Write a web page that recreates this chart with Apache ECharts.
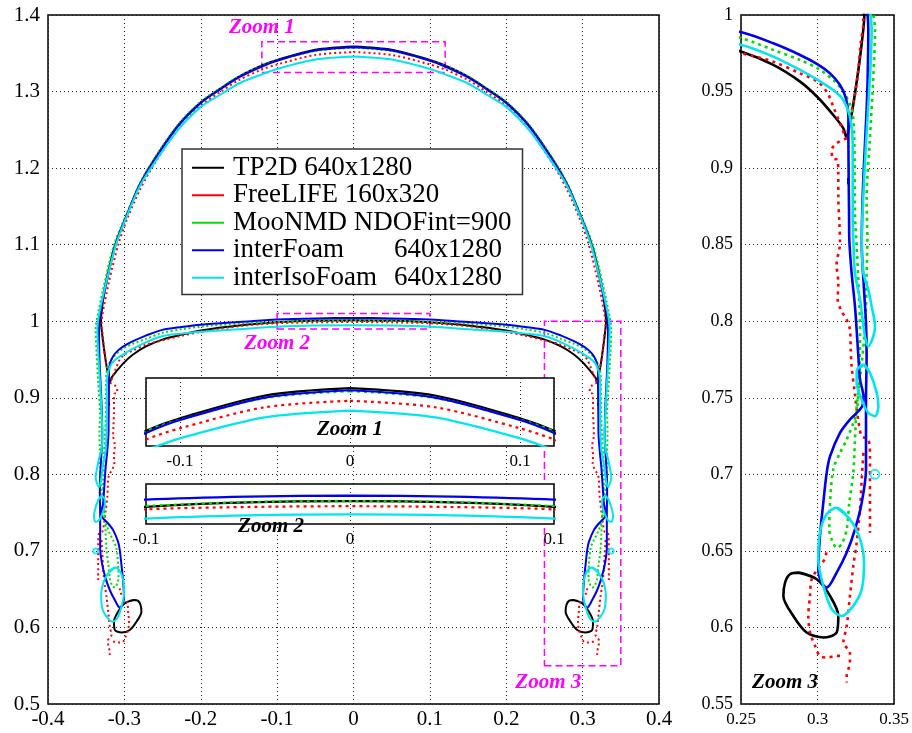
<!DOCTYPE html>
<html><head><meta charset="utf-8">
<script src="https://cdn.jsdelivr.net/npm/echarts@6/dist/echarts.min.js"></script>
<style>html,body{margin:0;padding:0;background:#fff}#c{width:912px;height:733px}</style>
</head><body><div id="c"></div>
<script>
// ---------------- DATA (right half of each interface) ----------------
const seriesNames = ['TP2D 640x1280', 'FreeLIFE 160x320', 'MooNMD NDOFint=900', 'interFoam 640x1280', 'interIsoFoam 640x1280'];

const tp2dHalf = [[0,1.359],[0.05,1.3547],[0.1,1.3413],[0.12,1.334],[0.15,1.3195],[0.175,1.3035],[0.2,1.286],[0.23,1.2555],[0.2615,1.2105],[0.28,1.1785],[0.2965,1.14],[0.312,1.1],[0.3245,1.05],[0.3295,1.015],[0.3306,1.0],[0.3289,0.9815],[0.3267,0.9641],[0.3245,0.9489],[0.3228,0.938],[0.3208,0.9282],[0.3191,0.9195],[0.3169,0.926],[0.3103,0.9347],[0.3001,0.9463],[0.2886,0.9565],[0.2711,0.9674],[0.2504,0.976],[0.225,0.9825],[0.2,0.988],[0.15,0.9945],[0.1,0.9986],[0.05,1.0008],[0,1.0014]];
const tp2dDrop = [[0.2875,0.6358],[0.2995,0.6315],[0.3082,0.6206],[0.3136,0.6075],[0.3125,0.5967],[0.3038,0.5934],[0.2929,0.5967],[0.2842,0.6075],[0.2777,0.6206],[0.2788,0.6293],[0.282,0.6347],[0.2875,0.6358],[0.2995,0.6315]];
const tp2dDot = [[0.3202,0.8935],[0.3202,0.8895]];

const freelifeHalf = [[0,1.3516],[0.05,1.3478],[0.1,1.3354],[0.12,1.3288],[0.15,1.315],[0.175,1.299],[0.2,1.2815],[0.23,1.25],[0.2615,1.2045],[0.28,1.171],[0.2965,1.133],[0.308,1.1],[0.3205,1.05],[0.3285,1.01],[0.33,0.995],[0.3282,0.9815],[0.3267,0.9641],[0.324,0.945],[0.3205,0.93],[0.319,0.9195],[0.3147,0.9293],[0.3103,0.9402],[0.3064,0.9493],[0.3001,0.9565],[0.2886,0.9619],[0.2711,0.9695],[0.2504,0.975],[0.225,0.981],[0.2,0.986],[0.15,0.9935],[0.1,0.9973],[0.05,0.9985],[0,0.9989]];
const freelifeTailA = [[0.319,0.9195],[0.3125,0.9162],[0.3093,0.9119],[0.3099,0.9064],[0.313,0.9053],[0.3136,0.8966],[0.3136,0.8814],[0.3143,0.864],[0.3147,0.851],[0.3125,0.8369],[0.3136,0.825],[0.3132,0.8141],[0.3158,0.8065],[0.3191,0.801],[0.3212,0.7945],[0.3217,0.7815],[0.3223,0.7706],[0.3245,0.752],[0.3267,0.735],[0.3289,0.7249],[0.3332,0.7227],[0.3343,0.7118],[0.3343,0.701],[0.3343,0.6858],[0.3343,0.6619]];
const freelifeTailB = [[0.33,0.714],[0.3289,0.6967],[0.3278,0.6771],[0.3256,0.6554],[0.3234,0.6402],[0.3212,0.6206],[0.3191,0.601],[0.3169,0.59],[0.3212,0.5836],[0.3212,0.5771],[0.3191,0.5684],[0.3191,0.564]];
const freelifeTailC = [[0.3147,0.5814],[0.3125,0.5814],[0.306,0.5803],[0.3016,0.5814],[0.2984,0.588],[0.2951,0.5967],[0.294,0.6075],[0.2951,0.6206],[0.2962,0.6315],[0.3016,0.6402],[0.3049,0.645],[0.306,0.651]];

const moonmdHalf = [[0,1.3572],[0.05,1.3532],[0.1,1.3405],[0.12,1.3338],[0.15,1.32],[0.175,1.304],[0.2,1.287],[0.23,1.2565],[0.2615,1.2115],[0.28,1.1795],[0.2965,1.1415],[0.3135,1.1],[0.326,1.05],[0.3345,1.01],[0.3376,0.99],[0.3365,0.96],[0.3343,0.92],[0.3321,0.88],[0.3326,0.8533],[0.3321,0.8315],[0.3317,0.8097],[0.3304,0.788],[0.3282,0.7662],[0.3256,0.7445],[0.3245,0.7227],[0.3234,0.701],[0.3208,0.6815],[0.3191,0.6641],[0.3158,0.6543],[0.3125,0.6521],[0.3093,0.6576],[0.3077,0.6641],[0.3082,0.6815],[0.3103,0.7033],[0.3147,0.714],[0.3191,0.7227],[0.3234,0.7336],[0.3256,0.7401],[0.327,0.76],[0.3278,0.79],[0.327,0.82],[0.3255,0.85],[0.3245,0.87],[0.324,0.92],[0.3225,0.938],[0.3169,0.95],[0.3103,0.9576],[0.3001,0.9652],[0.2886,0.9706],[0.2711,0.9772],[0.2504,0.9848],[0.225,0.9895],[0.2,0.993],[0.15,0.9968],[0.1,0.999],[0.05,1.001],[0,1.0014]];

const interFoamHalf = [[0,1.3578],[0.05,1.3535],[0.1,1.3403],[0.12,1.3327],[0.15,1.3185],[0.175,1.3025],[0.2,1.285],[0.23,1.2545],[0.2615,1.209],[0.28,1.178],[0.2965,1.139],[0.3115,1.1],[0.3235,1.05],[0.3315,1.01],[0.3332,0.99],[0.3328,0.96],[0.3321,0.938],[0.33,0.8945],[0.3292,0.87],[0.3289,0.851],[0.3304,0.8206],[0.3317,0.7989],[0.3321,0.7771],[0.3317,0.7488],[0.3317,0.7033],[0.3289,0.6815],[0.3245,0.6641],[0.3191,0.6489],[0.3125,0.6358],[0.306,0.626],[0.3027,0.6293],[0.3005,0.638],[0.3016,0.6597],[0.3038,0.6815],[0.306,0.701],[0.3082,0.7118],[0.3147,0.7271],[0.3212,0.7358],[0.329,0.744],[0.33,0.751],[0.3278,0.7619],[0.3267,0.7771],[0.326,0.788],[0.3245,0.8097],[0.3223,0.8315],[0.3208,0.853],[0.3206,0.8727],[0.3202,0.9162],[0.3202,0.9336],[0.3186,0.9456],[0.3147,0.9543],[0.3082,0.9619],[0.3001,0.9678],[0.2886,0.9739],[0.2711,0.9815],[0.2504,0.9887],[0.225,0.9925],[0.2,0.9955],[0.15,0.999],[0.1,1.0022],[0.05,1.0037],[0,1.0042]];

const interIsoFoamHalf = [[0,1.3458],[0.05,1.3418],[0.1,1.3295],[0.12,1.3225],[0.15,1.3105],[0.175,1.2955],[0.2,1.28],[0.23,1.2495],[0.2615,1.2055],[0.28,1.176],[0.2965,1.138],[0.311,1.1],[0.324,1.05],[0.333,1.01],[0.3354,0.99],[0.3343,0.9597],[0.3317,0.9162],[0.3295,0.8727],[0.3289,0.8533],[0.33,0.8315],[0.3332,0.8206],[0.3354,0.8097],[0.3376,0.7967],[0.3365,0.7902],[0.3332,0.7836],[0.331,0.79],[0.329,0.805],[0.3278,0.8141],[0.3245,0.8315],[0.3234,0.8533],[0.323,0.8727],[0.323,0.9162],[0.3212,0.9336],[0.3169,0.9445],[0.3103,0.951],[0.3001,0.9576],[0.2886,0.9641],[0.2711,0.9728],[0.2504,0.9804],[0.225,0.9838],[0.2,0.9862],[0.15,0.9895],[0.1,0.9927],[0.05,0.9943],[0,0.9948]];
const isoDropMid = [[0.33,0.7717],[0.3343,0.7662],[0.3387,0.7532],[0.3398,0.7445],[0.3376,0.738],[0.3332,0.7401],[0.3289,0.7488],[0.3256,0.7597],[0.3256,0.7673],[0.33,0.7717],[0.3343,0.7662]];
const isoDropBig = [[0.3125,0.6782],[0.3212,0.6706],[0.3278,0.6576],[0.3304,0.6423],[0.3289,0.6249],[0.3234,0.6141],[0.3158,0.6075],[0.3093,0.6119],[0.3038,0.6271],[0.3005,0.6445],[0.3016,0.6619],[0.306,0.6739],[0.3125,0.6782],[0.3212,0.6706]];
const isoDropSmall = [[0.3375,0.70]];

// axis ranges / ticks
const mainX = [-0.4, 0.4, 0.1], mainY = [0.5, 1.4, 0.1];
const zoom3X = [0.25, 0.35, 0.05], zoom3Y = [0.55, 1.0, 0.05];
const zoom1X = [-0.12, 0.12], zoom1Y = [1.325, 1.365];
const zoom2X = [-0.1, 0.1, 0.1], zoom2Y = [0.99, 1.01];

// ---------------- BUILD ----------------
const BREAK = ['-', '-'];
const mirror = p => [-p[0], p[1]];
function shape(half, pieces) {
  let out = half.concat(half.slice(0, -1).reverse().map(mirror));
  (pieces || []).forEach(pc => { out = out.concat([BREAK], pc, [BREAK], pc.map(mirror)); });
  return out;
}
const models = [
  { name: seriesNames[0], color: '#000000', data: shape(tp2dHalf, [tp2dDrop, tp2dDot]), dash: 'solid' },
  { name: seriesNames[1], color: '#ff0000', data: shape(freelifeHalf, [freelifeTailA, freelifeTailB, freelifeTailC]), dash: 'red' },
  { name: seriesNames[2], color: '#00dd00', data: shape(moonmdHalf, []), dash: 'green' },
  { name: seriesNames[3], color: '#0000ee', data: shape(interFoamHalf, []), dash: 'solid' },
  { name: seriesNames[4], color: '#00e5ee', data: shape(interIsoFoamHalf, [isoDropMid, isoDropBig]), dash: 'solid' }
];
const serif = "'Liberation Serif','Times New Roman',serif";
const gridLayouts = [
  { left: 48, top: 15, width: 611, height: 689 },
  { left: 741, top: 15, width: 153, height: 689 },
  { left: 146, top: 378, width: 408, height: 68 },
  { left: 146, top: 484, width: 408, height: 40 }
];
const lineW = [2, 2.6, 2.2, 2.2];
const dashes = {
  red: [[2, 3], [3, 4.5], [3, 4], [3, 4]],
  green: [[2, 2.5], [3, 4], [3, 4], [3, 4]]
};
const series = [];
models.forEach((m, mi) => {
  for (let g = 0; g < 4; g++) {
    series.push({
      type: 'line', name: m.name, xAxisIndex: g, yAxisIndex: g, data: m.data,
      symbol: 'none', smooth: 0.3, clip: true, silent: true,
      color: m.color, itemStyle: { color: m.color },
      lineStyle: { color: m.color, width: lineW[g], type: m.dash === 'solid' ? 'solid' : dashes[m.dash][g], cap: 'butt' },
      z: g >= 2 ? 6 : 2,
      markArea: (g === 0 && mi === 0) ? {
        silent: true,
        itemStyle: { color: 'rgba(0,0,0,0)', borderColor: '#ff00ff', borderWidth: 1.5, borderType: [7, 4] },
        label: { show: false },
        data: [
          [{ coord: [zoom1X[0], zoom1Y[0]] }, { coord: [zoom1X[1], zoom1Y[1]] }],
          [{ coord: [zoom2X[0], zoom2Y[0]] }, { coord: [zoom2X[1], zoom2Y[1]] }],
          [{ coord: [zoom3X[0], zoom3Y[0]] }, { coord: [zoom3X[1], zoom3Y[1]] }]
        ]
      } : undefined
    });
  }
});
[0, 1].forEach(g => {
  series.push({
    type: 'scatter', name: seriesNames[4], xAxisIndex: g, yAxisIndex: g,
    data: isoDropSmall.concat(isoDropSmall.map(mirror)), symbol: 'circle', symbolSize: g === 0 ? 5 : 9,
    itemStyle: { color: 'rgba(0,0,0,0)', borderColor: '#00e5ee', borderWidth: 2 }, silent: true, z: 3
  });
});

const split = { show: true, lineStyle: { color: '#222', width: 1, type: [1, 3] } };
const lbl = (fs, m) => ({ color: '#000', fontSize: fs, fontFamily: serif, margin: m });
const option = {
  backgroundColor: '#fff', animation: false,
  textStyle: { fontFamily: serif },
  grid: gridLayouts.map((l, i) => Object.assign({ show: true, borderColor: '#000', borderWidth: 1.5, backgroundColor: '#fff', z: i >= 2 ? 3 : 0 }, l)),
  xAxis: [
    { gridIndex: 0, type: 'value', min: mainX[0], max: mainX[1], interval: mainX[2], axisLine: { show: false }, axisTick: { show: false }, splitLine: split, axisLabel: lbl(21, 5) },
    { gridIndex: 1, type: 'value', min: zoom3X[0], max: zoom3X[1], interval: zoom3X[2], axisLine: { show: false }, axisTick: { show: false }, splitLine: split, axisLabel: lbl(17, 7) },
    { gridIndex: 2, type: 'value', min: zoom1X[0], max: zoom1X[1], splitNumber: 2, axisLine: { show: false }, axisTick: { show: false }, splitLine: split, axisLabel: Object.assign(lbl(17, 7), { showMinLabel: false, showMaxLabel: false }), z: 4 },
    { gridIndex: 3, type: 'value', min: zoom2X[0], max: zoom2X[1], interval: zoom2X[2], axisLine: { show: false }, axisTick: { show: false }, splitLine: split, axisLabel: lbl(17, 7), z: 4 }
  ],
  yAxis: [
    { gridIndex: 0, type: 'value', min: mainY[0], max: mainY[1], interval: mainY[2], axisLine: { show: false }, axisTick: { show: false }, splitLine: split, axisLabel: lbl(21, 8) },
    { gridIndex: 1, type: 'value', min: zoom3Y[0], max: zoom3Y[1], interval: zoom3Y[2], axisLine: { show: false }, axisTick: { show: false }, splitLine: split, axisLabel: lbl(18, 8) },
    { gridIndex: 2, type: 'value', min: zoom1Y[0], max: zoom1Y[1], show: false },
    { gridIndex: 3, type: 'value', min: zoom2Y[0], max: zoom2Y[1], show: false }
  ],
  legend: {
    orient: 'vertical', left: 182, top: 149, padding: [5, 11, 3, 10], itemGap: 0,
    itemWidth: 32, itemHeight: 2, icon: 'rect', selectedMode: false,
    backgroundColor: '#fff', borderColor: '#333', borderWidth: 1.5, z: 10,
    data: models.map(m => ({ name: m.name, itemStyle: { color: m.color, borderWidth: 0 } })),
    formatter: n => n.startsWith('inter') ? '{a|' + n.split(' ')[0] + '}' + n.split(' ')[1] : n,
    textStyle: {
      color: '#000', fontSize: 27, fontFamily: serif, lineHeight: 27.5, padding: [0, 0, 0, 4],
      rich: { a: { width: 161, fontSize: 27, fontFamily: serif, lineHeight: 27.5, color: '#000' } }
    }
  },
  series: series
};
const chart = echarts.init(document.getElementById('c'), null, { renderer: 'canvas' });
chart.setOption(option);

// "Zoom" annotations anchored in data coordinates of the corresponding grid
const zoomLabels = [
  { text: 'Zoom 1', grid: 0, at: [-0.12, 1.384], color: '#ff00ff' },
  { text: 'Zoom 2', grid: 0, at: [-0.1, 0.9705], color: '#ff00ff' },
  { text: 'Zoom 3', grid: 0, at: [0.255, 0.528], color: '#ff00ff' },
  { text: 'Zoom 1', grid: 2, at: [0, 1.3344], color: '#000' },
  { text: 'Zoom 2', grid: 3, at: [-0.0387, 0.9889], color: '#000' },
  { text: 'Zoom 3', grid: 1, at: [0.2788, 0.564], color: '#000' }
];
chart.setOption({
  graphic: zoomLabels.map(z => {
    const p = chart.convertToPixel({ gridIndex: z.grid }, z.at);
    return { type: 'text', x: p[0], y: p[1], z: 100, silent: true,
      style: { text: z.text, fill: z.color, font: 'italic bold 21px ' + serif, align: 'center', verticalAlign: 'middle' } };
  })
});
</script></body></html>
